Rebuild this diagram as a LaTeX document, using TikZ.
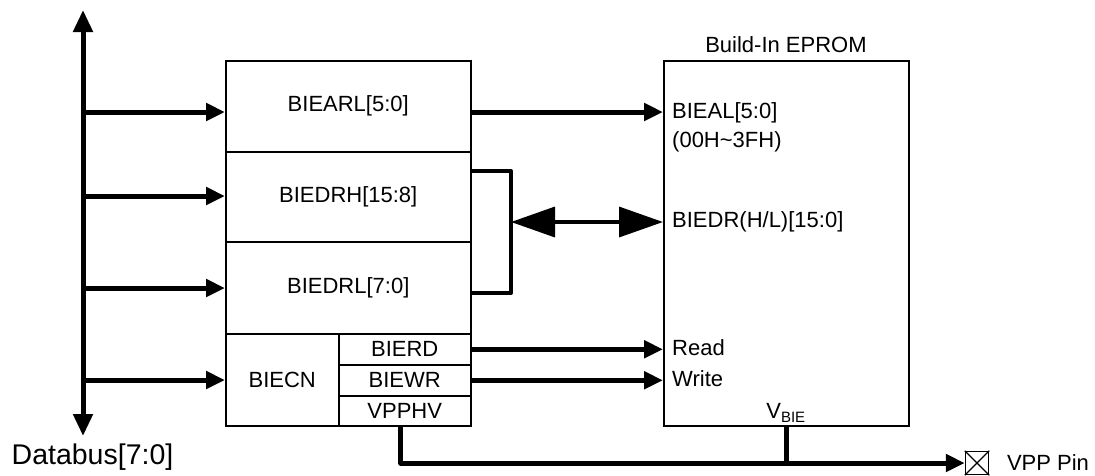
\documentclass[tikz,border=0pt]{standalone}
\usepackage{fontspec}
\setmainfont{Liberation Sans}
\usetikzlibrary{arrows.meta,calc}
\begin{document}
\begin{tikzpicture}[x=1pt,y=-1pt,
  lbl/.style={font=\fontsize{22}{26}\selectfont, inner sep=0pt},
  blk/.style={draw, line width=1.5pt, inner sep=0pt, anchor=north west, font=\fontsize{22}{26}\selectfont},
  bus/.style={line width=5pt, -{Triangle[length=19pt,width=17pt]}},
  dbus/.style={line width=5pt, {Triangle[length=22pt,width=19pt]}-{Triangle[length=22pt,width=19pt]}},
  dbl/.style={line width=3.5pt, {Triangle[length=44pt,width=30pt]}-{Triangle[length=44pt,width=30pt]}},
  thk/.style={line width=4pt, line join=round},
]
\useasboundingbox (0,0) rectangle (1095,475);
% left register block
\node[blk, minimum width=245pt, minimum height=91pt] (arl) at (225,60) {BIEARL[5:0]};
\node[blk, minimum width=245pt, minimum height=90pt] (drh) at (225,151) {BIEDRH[15:8]};
\node[blk, minimum width=245pt, minimum height=92pt] (drl) at (225,241) {BIEDRL[7:0]};
\node[blk, minimum width=113pt, minimum height=92pt] (cn) at (225,333) {BIECN};
\node[blk, minimum width=132pt, minimum height=31pt] (rd) at (338,333) {BIERD};
\node[blk, minimum width=132pt, minimum height=31pt] (wr) at (338,364) {BIEWR};
\node[blk, minimum width=132pt, minimum height=30pt] (vpphv) at (338,395) {VPPHV};
% EPROM
\node[blk, minimum width=245pt, minimum height=365pt] (eprom) at (663,60) {};
\node[lbl] (eptitle) at (786,45) {Build-In EPROM};
\node[lbl, anchor=west] (eal) at (672,113) {BIEAL[5:0]};
\node[lbl, anchor=west] (ealr) at (672,142) {(00H\textasciitilde 3FH)};
\node[lbl, anchor=west] (edr) at (672,222) {BIEDR(H/L)[15:0]};
\node[lbl, anchor=west] (erd) at (672,348) {Read};
\node[lbl, anchor=west] (ewr) at (672,379) {Write};
\node[lbl] (vbie) at (786,413) {V\textsubscript{\fontsize{15}{17}\selectfont BIE}};
% databus
\coordinate (dtop) at (83,10);
\coordinate (dbot) at (83,436);
\draw[dbus] (dbot) -- (dtop);
\node[font=\fontsize{28.5}{33}\selectfont, inner sep=0pt] (dlabel) at (92.5,457) {Databus[7:0]};
\coordinate (b1) at (83,112);
\coordinate (b2) at (83,196);
\coordinate (b3) at (83,288);
\coordinate (b4) at (83,380);
\draw[bus] (b1) -- (b1 -| arl.west);
\draw[bus] (b2) -- (b2 -| drh.west);
\draw[bus] (b3) -- (b3 -| drl.west);
\draw[bus] (b4) -- (b4 -| cn.west);
% address
\draw[bus] (b1 -| arl.east) -- (b1 -| eprom.west);
% data bracket
\coordinate (brt) at (511,171);
\coordinate (brb) at (511,293);
\coordinate (brm) at (511,222);
\draw[thk] (brt -| drh.east) -- (brt) -- (brb) -- (brb -| drl.east);
\draw[dbl] (brm) -- (brm -| eprom.west);
% read / write
\draw[bus] (rd.east) -- (rd.east -| eprom.west);
\draw[bus] (wr.east) -- (wr.east -| eprom.west);
% VPP
\node[draw, line width=1.5pt, minimum size=23pt, inner sep=0pt] (pin) at (977,463) {};
\draw[line width=1.2pt] (pin.north west) -- (pin.south east) (pin.north east) -- (pin.south west);
\node[lbl] (pinlbl) at (1048,463) {VPP Pin};
\coordinate (vs) at ($(vpphv.south)+(-4,0)$);
\coordinate (jn) at (eprom.south |- pin.west);
\draw[line width=5pt, line join=round] (vs) -- (vs |- pin.west) -- (jn);
\draw[bus] (jn) -- (pin.west);
\draw[line width=5pt] (eprom.south) -- (jn);
\end{tikzpicture}
\end{document}
